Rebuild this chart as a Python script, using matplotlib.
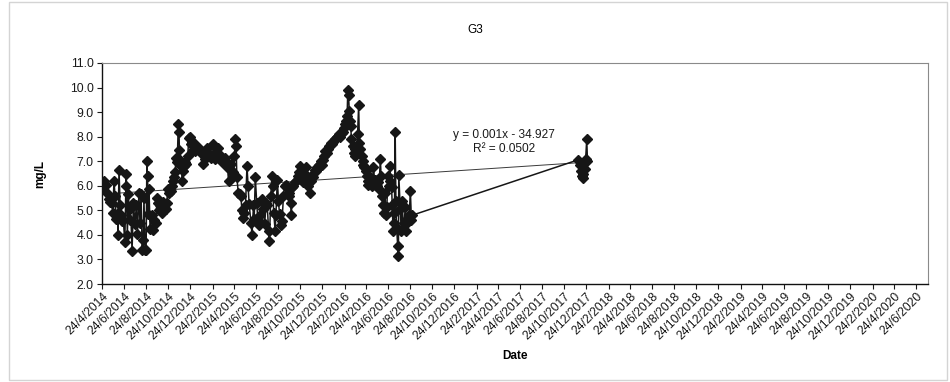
import numpy as np
import pandas as pd
import matplotlib
matplotlib.use("Agg")
import matplotlib.pyplot as plt
from matplotlib.patches import Rectangle

plt.rcParams["font.family"] = ["Liberation Sans", "DejaVu Sans"]

# sampling days counted from the first sample (24/4/2014) and the readings in mg/L
start_date = "2014-04-24"
sample_day = [
    0, 4, 6, 11, 13, 18, 22, 27, 30, 33, 36, 39, 43, 44, 47, 50, 53, 55, 59, 63,
    66, 67, 70, 73, 76, 79, 83, 87, 91, 95, 98, 102, 105, 108, 111, 114, 116, 119, 122, 124,
    126, 128, 130, 133, 137, 140, 144, 149, 152, 155, 158, 161, 165, 169, 173, 176, 179, 182, 186, 188,
    191, 194, 197, 200, 202, 205, 208, 211, 213, 214, 216, 219, 222, 225, 227, 230, 233, 237, 240, 243,
    246, 249, 251, 255, 258, 261, 265, 269, 273, 276, 280, 284, 287, 291, 295, 298, 302, 306, 310, 313,
    317, 321, 324, 328, 332, 335, 339, 343, 347, 350, 354, 358, 361, 364, 366, 369, 371, 373, 377, 381,
    384, 387, 391, 394, 397, 401, 404, 407,
    412, 415, 419, 421, 424, 428, 431, 433, 438, 443, 446, 450, 454, 457, 461, 463, 467, 470, 472, 475,
    479, 481, 485, 488, 491, 494, 498, 502, 505, 509, 513, 516, 518, 522, 524, 526, 529, 533, 537, 541,
    544, 548, 551, 553, 557, 561, 565, 567, 570, 574, 578, 581, 585, 589, 592, 596, 600, 603, 606, 609,
    612, 614, 618, 622, 626, 629, 633, 637, 640, 644, 648, 651, 655, 659, 663, 666, 670, 673, 675, 678,
    680, 682, 684, 686, 688, 690, 693, 696, 699, 701, 704, 707, 710, 712, 715, 718, 721, 723, 726, 729,
    732, 735, 737, 740, 743, 746, 748, 751, 754, 757, 760, 763, 766, 770, 772, 775, 777, 780, 783, 785,
    788, 791, 794, 796, 798, 801, 803, 805, 807, 809, 811, 813, 815, 818, 820, 821, 825, 828, 831, 833,
    836, 839, 842, 845, 847, 850, 853, 856, 858,
    1316, 1321, 1324, 1327, 1330, 1332, 1335, 1338, 1341, 1343,
]
do_mgl = [
    6.13, 6.0, 6.2, 6.05, 5.7, 5.45, 5.35, 5.3, 4.9, 6.2, 5.6, 4.65, 4.9, 4.0, 6.65, 5.2, 4.8, 4.55, 4.6, 3.7,
    6.0, 6.5, 4.0, 5.65, 4.6, 5.1, 3.35, 5.3, 4.45, 5.2, 4.05, 5.7, 4.5, 5.65, 3.4, 3.8, 5.5, 3.4, 3.4, 7.0,
    6.4, 4.85, 5.85, 4.25, 4.8, 4.2, 4.6, 4.5, 5.5, 5.3, 5.0, 5.2, 4.9, 5.35, 5.25, 5.05, 5.3, 5.85, 5.7, 5.9,
    5.8, 6.0, 6.2, 6.35, 6.55, 7.15, 6.95, 8.5, 8.2, 7.45, 7.05, 6.8, 6.2, 6.6, 6.8, 6.95, 6.9, 7.2, 7.95, 8.0,
    7.7, 7.8, 7.45, 7.75, 7.4, 7.6, 7.5, 7.55, 7.4, 7.3, 6.9, 7.1, 7.2, 7.55, 7.3, 7.2, 7.15, 7.7, 7.3, 7.1,
    7.2, 7.55, 7.3, 7.1, 6.95, 7.05, 7.15, 6.95, 6.75, 6.2, 6.7, 6.9, 6.55, 6.4, 7.2, 7.9, 7.6, 6.35, 5.7, 5.65,
    5.6, 5.0, 4.7, 4.9, 5.2, 6.8, 6.0, 5.25,
    4.5, 4.0, 5.2, 4.65, 6.35, 5.3, 4.6, 4.4, 4.8, 5.45, 5.05, 4.45, 5.3, 5.2, 4.15, 3.75, 5.6, 6.4, 6.0, 4.9,
    4.15, 4.8, 6.25, 5.4, 4.85, 4.4, 4.55, 5.6, 6.0, 6.05, 6.0, 5.6, 5.7, 5.3, 4.8, 5.95, 6.0, 6.15, 6.2, 6.4,
    6.55, 6.8, 6.6, 6.35, 6.15, 6.25, 6.75, 6.4, 6.0, 5.7, 6.2, 6.45, 6.35, 6.65, 6.6, 6.75, 6.85, 6.8, 7.0, 6.85,
    7.05, 7.2, 7.4, 7.35, 7.5, 7.6, 7.75, 7.7, 7.8, 7.9, 7.95, 8.0, 8.1, 8.0, 8.15, 8.2, 8.35, 8.5, 8.65, 8.85,
    9.9, 9.7, 9.05, 8.65, 8.45, 7.9, 7.6, 7.35, 7.5, 7.2, 7.4, 8.1, 9.3, 7.75, 7.5, 7.2, 7.0, 6.85, 6.75, 6.6,
    6.4, 6.2, 6.05, 6.35, 6.15, 6.0, 6.2, 6.75, 6.25, 6.05, 6.0, 6.15, 5.85, 7.1, 6.4, 5.6, 5.2, 4.9, 5.7, 4.8,
    5.15, 6.4, 6.0, 6.8, 6.2, 5.95, 5.2, 4.15, 4.5, 4.9, 8.2, 5.4, 4.3, 3.55, 3.15, 6.45, 5.05, 4.15, 5.4, 4.25,
    4.5, 5.15, 4.15, 4.5, 4.7, 4.8, 5.8, 4.6, 4.8,
    7.05, 6.85, 6.6, 6.4, 6.3, 6.5, 6.7, 7.1, 7.9, 7.0,
]

# linear trend against the spreadsheet date serial
trend_slope = 0.000972
trend_intercept = -34.927
trend_r2 = 0.0502

dates = pd.Timestamp(start_date) + pd.to_timedelta(sample_day, unit="D")
serial = (dates - pd.Timestamp("1899-12-30")).days.to_numpy()

tick_dates = [pd.Timestamp(start_date) + pd.DateOffset(months=2 * i) for i in range(38)]
tick_labels = [f"{d.day}/{d.month}/{d.year}" for d in tick_dates]

fig = plt.figure(figsize=(9.5, 3.82), dpi=100)
ax = fig.add_axes([0.1074, 0.2565, 0.8694, 0.5786])

# light border round the whole chart
fig.patches.append(Rectangle((0.009, 0.004), 0.988, 0.99, transform=fig.transFigure,
                             fill=False, edgecolor="#d4d4d4", linewidth=1.0))

ax.plot(dates, do_mgl, color="#161616", linewidth=1.1, marker="D",
        markersize=5, markerfacecolor="#161616", markeredgecolor="#161616", zorder=3)

trend_x = np.array([serial.min(), serial.max()])
trend_y = trend_slope * trend_x + trend_intercept
ax.plot([dates.min(), dates.max()], trend_y, color="#3a3a3a", linewidth=0.7, zorder=2)

ax.text(pd.Timestamp("2017-05-11"), 7.78,
        f"y = {trend_slope:.3f}x - {abs(trend_intercept):.3f}\nR\u00b2 = {trend_r2:.4f}",
        ha="center", va="center", fontsize=8.6, linespacing=1.15, color="#1a1a1a")

ax.set_xlim(pd.Timestamp(start_date), pd.Timestamp("2020-07-26"))
ax.set_ylim(2, 11)
ax.set_yticks(np.arange(2, 11.5, 1.0))
ax.yaxis.set_major_formatter(plt.FormatStrFormatter("%.1f"))
ax.set_xticks(tick_dates)
ax.set_xticklabels(tick_labels, rotation=45, ha="right", rotation_mode="anchor")

ax.tick_params(axis="both", direction="out", length=3.5, width=0.8,
               labelsize=8.8, colors="#1a1a1a")
ax.tick_params(axis="x", pad=1)
ax.tick_params(axis="y", pad=2.5)

for side in ("left", "bottom"):
    ax.spines[side].set_color("#111111")
    ax.spines[side].set_linewidth(1.0)
for side in ("top", "right"):
    ax.spines[side].set_color("#8a8a8a")
    ax.spines[side].set_linewidth(0.8)

ax.set_ylabel("mg/L", fontsize=8.5, fontweight="bold")
ax.yaxis.set_label_coords(-0.068, 0.5)
ax.set_xlabel("Date", fontsize=8.5, fontweight="bold")
ax.xaxis.set_label_coords(0.5, -0.30)

fig.text(0.5, 1 - 30 / 382, "G3", ha="center", va="center", fontsize=8.5)

fig.savefig("out.png", dpi=100)
